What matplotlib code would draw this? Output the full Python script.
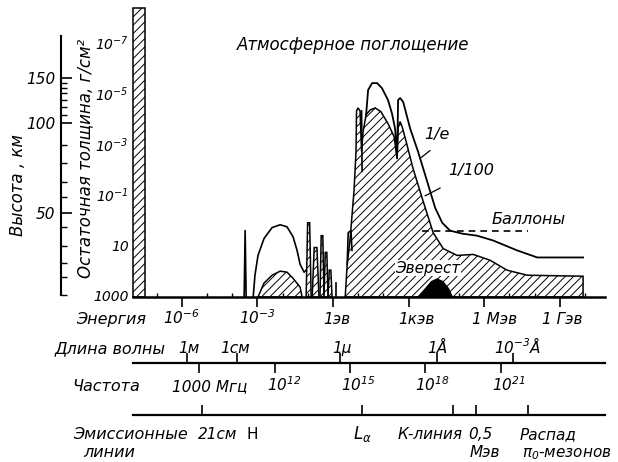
#!/usr/bin/env python3
"""Atmospheric absorption of radiation vs. photon energy (textbook figure)."""

import matplotlib

matplotlib.use("Agg")
import matplotlib.pyplot as plt
from matplotlib.transforms import ScaledTranslation, blended_transform_factory

W, H, DPI = 618, 462, 100

# x: log10(E / eV), y: log10(residual thickness, g/cm^2)
E_LIM = (-7.94, 10.79)
D_LIM = (3.04, -8.56)
SEA = 3.04

ENERGY_TICKS = [-6, -3, 0, 3, 6, 9]
ENERGY_LABELS = [r"$10^{-6}$", r"$10^{-3}$", "1эв", "1кэв", "1 Мэв", "1 Гэв"]
ENERGY_MINOR = list(range(-7, 11))

WAVE_TICKS = [-5.79, -3.81, 0.28, 4.13, 7.14]
WAVE_LABELS = ["1м", "1см", "1μ", "1Å", r"$10^{-3}$Å"]

FREQ_TICKS = [-5.32, -2.30, 0.67, 3.65, 6.67]
FREQ_LABELS = ["1000 Мгц", r"$10^{12}$", r"$10^{15}$", r"$10^{18}$", r"$10^{21}$"]

EMISSION_TICKS = [-5.20, 1.15, 4.76, 5.67, 7.74]

DEPTH_TICKS = [-7, -5, -3, -1, 1, 3]
DEPTH_LABELS = [r"$10^{-7}$", r"$10^{-5}$", r"$10^{-3}$", r"$10^{-1}$", "10", "1000"]

ALT_LABELS = ["150", "100", "50"]
ALT_POS = [-5.52, -3.76, -0.24]
ALT_MINOR = [2.96, 2.26, 1.71, 1.05, 0.30, -0.87, -1.45, -2.20, -2.90,
             -4.07, -4.38, -4.66, -4.93, -5.13, -5.32]

# ionospheric cut-off at long wavelengths
BAR_E = [-7.94, -7.46]
BAR_TOP = -8.37

# radio window
RADIO_SPIKE_E = [-3.53, -3.49, -3.45]
RADIO_SPIKE_D = [SEA, 0.42, SEA]
RADIO_1E_E = [-3.17, -3.10, -2.98, -2.74, -2.42, -2.10, -1.83, -1.59, -1.43, -1.31, -1.15, -1.07]
RADIO_1E_D = [SEA, 2.18, 1.40, 0.73, 0.30, 0.19, 0.27, 0.66, 1.20, 1.75, 2.06, 1.98]
RADIO_100_E = [-2.98, -2.74, -2.42, -2.10, -1.83, -1.59, -1.31, -1.23]
RADIO_100_D = [SEA, 2.49, 2.18, 2.02, 2.06, 2.30, 2.65, SEA]

# infrared absorption bands
IR_LEFT = [-1.07, -0.83, -0.52, -0.36, -0.20]
IR_RIGHT = [-0.87, -0.56, -0.36, -0.20, -0.04]
IR_TOP = [0.11, 1.09, 0.62, 1.28, 1.98]
IR_LINE_E = 0.12
IR_LINE_TOP = 2.49

# optical / UV / X / gamma
OPT_1E_E = [0.56, 0.60, 0.71, 0.75]
OPT_1E_D = [1.75, 0.50, 0.42, 1.20]
MAIN_100_E = [0.48, 0.56, 0.67, 0.83, 0.91, 0.93, 0.99, 1.07, 1.13, 1.19, 1.31, 1.47,
              1.67, 1.90, 2.18, 2.42, 2.54, 2.58, 2.66, 2.74, 2.90, 3.17, 3.57, 3.97,
              4.37, 4.92, 5.56, 6.23, 6.90, 7.70, 9.92, 9.92]
MAIN_100_D = [SEA, 1.75, 0.81, -1.14, -2.70, -4.30, -4.42, -4.30, -2.70, -3.48, -4.15, -4.34,
              -4.42, -4.27, -3.80, -3.29, -2.43, -3.68, -3.88, -3.68, -3.09, -2.04, -0.75, 0.50,
              1.13, 1.40, 1.36, 1.59, 1.98, 2.18, 2.22, SEA]
SPIKE_EDGE_E = [1.13, 1.15]
SPIKE_EDGE_D = [-4.30, -1.92]
MAIN_1E_E = [1.31, 1.39, 1.55, 1.75, 1.94, 2.18, 2.34, 2.46, 2.54, 2.58, 2.66, 2.78,
             3.06, 3.37, 3.73, 4.05, 4.33, 4.64, 5.12, 5.71, 6.35, 7.30, 8.10, 9.92]
MAIN_1E_D = [-4.15, -5.13, -5.40, -5.40, -5.20, -4.73, -4.19, -3.60, -2.43, -4.73, -4.81, -4.66,
             -3.60, -2.70, -1.53, -0.48, 0.11, 0.42, 0.54, 0.62, 0.81, 1.20, 1.48, 1.48]

EVEREST_E = [3.33, 3.65, 3.89, 4.13, 4.37, 4.60, 4.76]
EVEREST_D = [SEA, 2.69, 2.41, 2.30, 2.41, 2.69, SEA]

BALLOON_E = [3.53, 7.74]
BALLOON_D = 0.42


plt.rcParams.update(
    {
        "font.family": "DejaVu Sans",
        "font.style": "italic",
        "mathtext.fontset": "custom",
        "mathtext.rm": "DejaVu Sans:italic",
        "mathtext.it": "DejaVu Sans:italic",
        "mathtext.sf": "DejaVu Sans:italic",
        "hatch.linewidth": 0.7,
    }
)

fig = plt.figure(figsize=(W / DPI, H / DPI), dpi=DPI)


def put(x, y, s, size=11.5, **kw):
    kw.setdefault("ha", "center")
    kw.setdefault("va", "center")
    fig.text(x / W, 1 - y / H, s, fontsize=size, **kw)


def axes_at(x0, y0, x1, y1):
    ax = fig.add_axes([x0 / W, 1 - y1 / H, (x1 - x0) / W, (y1 - y0) / H])
    ax.patch.set_visible(False)
    return ax


def scale_row(y):
    ax = axes_at(133, y - 0.1, 605, y)
    ax.set_xlim(E_LIM)
    ax.set_yticks([])
    for side in ("left", "right", "top"):
        ax.spines[side].set_visible(False)
    ax.spines["bottom"].set_linewidth(1.6)
    return ax


def row_text(ax, x, base_y, s, dx=0, size=11, **kw):
    tr = blended_transform_factory(ax.transData, fig.transFigure) + ScaledTranslation(
        dx / DPI, 0, fig.dpi_scale_trans
    )
    ax.text(x, 1 - base_y / H, s, transform=tr, ha="center", va="baseline",
            fontsize=size, clip_on=False, **kw)


# ---- main panel -------------------------------------------------------------
ax = axes_at(133, 3, 605, 297)
ax.set_xlim(E_LIM)
ax.set_ylim(D_LIM)
for side in ("left", "right", "top"):
    ax.spines[side].set_visible(False)
ax.spines["bottom"].set_linewidth(1.8)
ax.set_xticks(ENERGY_TICKS, [""] * len(ENERGY_TICKS))
ax.set_xticks(ENERGY_MINOR, minor=True)
ax.tick_params(axis="x", which="major", direction="out", length=7, width=1.2)
ax.tick_params(axis="x", which="minor", direction="in", length=3, width=1.0)
ax.set_yticks(DEPTH_TICKS, DEPTH_LABELS)
ax.tick_params(axis="y", length=0, pad=3, labelsize=10)

hatch = dict(facecolor="white", edgecolor="black", hatch="////", lw=1.1, clip_on=False)
ax.fill([BAR_E[0], BAR_E[1], BAR_E[1], BAR_E[0]], [SEA, SEA, BAR_TOP, BAR_TOP], **hatch)

ax.fill(RADIO_100_E, RADIO_100_D, **hatch)
ax.plot(RADIO_1E_E, RADIO_1E_D, color="black", lw=1.2)
ax.plot(RADIO_SPIKE_E, RADIO_SPIKE_D, color="black", lw=1.2)

for left, right, top in zip(IR_LEFT, IR_RIGHT, IR_TOP):
    w = right - left
    ax.fill([left, left + 0.3 * w, right - 0.3 * w, right], [SEA, top, top, SEA], **hatch)
ax.plot([IR_LINE_E, IR_LINE_E], [SEA, IR_LINE_TOP], color="black", lw=1.2)

ax.fill(MAIN_100_E, MAIN_100_D, **hatch)
ax.plot(SPIKE_EDGE_E, SPIKE_EDGE_D, color="black", lw=1.2)
ax.plot(OPT_1E_E, OPT_1E_D, color="black", lw=1.2)
ax.plot(MAIN_1E_E, MAIN_1E_D, color="black", lw=1.3)
ax.fill(EVEREST_E, EVEREST_D, color="black", lw=0)
ax.plot(BALLOON_E, [BALLOON_D, BALLOON_D], color="black", lw=1.2, ls=(0, (4, 3)))

ax.annotate("", xy=(3.45, -2.43), xytext=(3.85, -2.74),
            arrowprops=dict(arrowstyle="-", lw=0.9, shrinkA=0, shrinkB=0))
ax.annotate("", xy=(3.65, -0.95), xytext=(4.25, -1.26),
            arrowprops=dict(arrowstyle="-", lw=0.9, shrinkA=0, shrinkB=0))

for x, s, dx in zip(ENERGY_TICKS, ENERGY_LABELS, [0, 0, 4, 8, 10, 2]):
    row_text(ax, x, 324, s, dx=dx)

put(353, 45, "Атмосферное поглощение", size=12)
put(437, 134, "1/е", size=11.5)
put(471, 170, "1/100", size=11.5)
put(529, 220, "Баллоны", size=11.5)
put(428, 268, "Эверест", size=11,
    bbox=dict(facecolor="white", edgecolor="none", pad=0.5))

# ---- altitude scale ---------------------------------------------------------
axa = axes_at(61, 36, 62, 295)
axa.set_ylim(2.96, -7.16)
axa.set_xticks([])
for side in ("right", "top", "bottom"):
    axa.spines[side].set_visible(False)
axa.spines["left"].set_linewidth(1.5)
axa.set_yticks(ALT_POS, ALT_LABELS)
axa.set_yticks(ALT_MINOR, minor=True)
axa.tick_params(axis="y", which="major", direction="in", length=8, width=1.2,
                pad=4, labelsize=11)
axa.tick_params(axis="y", which="minor", direction="in", length=4, width=1.0)

put(18, 185, "Высота , км", size=12, rotation=90)
put(85, 158, "Остаточная толщина, г/см²", size=12, rotation=90)

# ---- wavelength / frequency scale ------------------------------------------
axf = scale_row(363)
axf.set_xticks(FREQ_TICKS, [""] * len(FREQ_TICKS))
axf.tick_params(axis="x", direction="out", length=7, width=1.2)
axw = scale_row(363)
axw.spines["bottom"].set_visible(False)
axw.xaxis.tick_top()
axw.set_xticks(WAVE_TICKS, [""] * len(WAVE_TICKS))
axw.tick_params(axis="x", direction="out", length=7, width=1.2)

for x, s, dx in zip(WAVE_TICKS, WAVE_LABELS, [2, -2, 2, 0, 5]):
    row_text(axw, x, 353, s, dx=dx)
for x, s, dx in zip(FREQ_TICKS, FREQ_LABELS, [11, 9, 8, 7, 8]):
    row_text(axf, x, 391, s, dx=dx)

# ---- emission lines --------------------------------------------------------
axe = scale_row(415)
axe.set_xticks(EMISSION_TICKS, [""] * len(EMISSION_TICKS))
axe.tick_params(axis="x", direction="in", length=7, width=1.2)

row_text(axe, EMISSION_TICKS[0], 439, "21см", dx=16)
row_text(axe, EMISSION_TICKS[0], 439, "H", dx=50, style="normal")
row_text(axe, EMISSION_TICKS[1], 439, r"$L_\alpha$", dx=0, size=12)
row_text(axe, EMISSION_TICKS[2], 439, "К-линия", dx=-23)
row_text(axe, EMISSION_TICKS[3], 439, "0,5", dx=4)
row_text(axe, EMISSION_TICKS[3], 457, "Мэв", dx=9)
row_text(axe, EMISSION_TICKS[4], 439, "Распад", dx=20)
row_text(axe, EMISSION_TICKS[4], 457, r"$\pi_0$-мезонов", dx=39)

# ---- row captions ------------------------------------------------------------
put(111, 324, "Энергия", va="baseline")
put(110, 353, "Длина волны", va="baseline")
put(106, 391, "Частота", va="baseline")
put(130, 439, "Эмиссионные", va="baseline")
put(109, 457, "линии", va="baseline")

fig.savefig("out.png", dpi=DPI)
